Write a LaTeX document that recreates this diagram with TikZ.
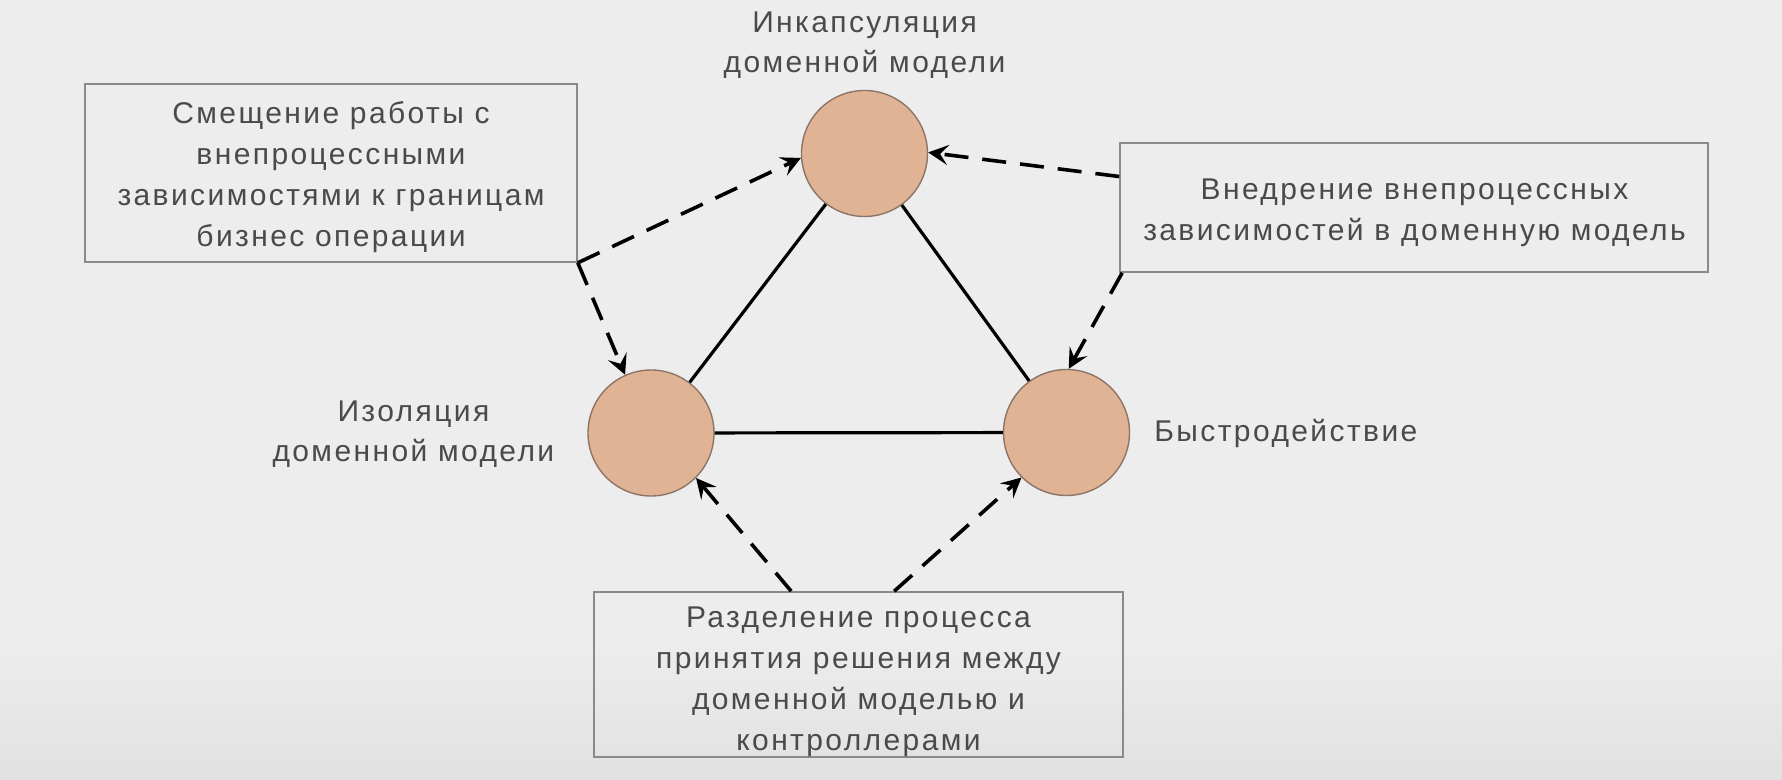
\documentclass[tikz,border=0pt]{standalone}
\usepackage{fontspec}
\setmainfont{Liberation Sans}[LetterSpace=8]
\usetikzlibrary{arrows.meta,calc}
\definecolor{bg}{HTML}{EDEDED}
\definecolor{bgb}{HTML}{E1E1E1}
\definecolor{txt}{HTML}{4A4A4A}
\definecolor{peach}{HTML}{DFB393}
\definecolor{peachline}{HTML}{8C7566}
\definecolor{boxline}{HTML}{8A8A8A}
\begin{document}
\begin{tikzpicture}[x=0.5pt,y=-0.5pt,
  circ/.style={circle,draw=peachline,line width=0.7pt,fill=peach,minimum size=63pt,inner sep=0pt},
  boxx/.style={draw=boxline,line width=0.8pt,inner sep=0pt},
  lbl/.style={text=txt,align=center,inner sep=0pt,font=\fontsize{15}{20}\selectfont},
  boxtext/.style={lbl,font=\fontsize{15}{20.5}\selectfont},
  conn/.style={line width=1.6pt,black},
  dep/.style={line width=1.8pt,black,dash pattern=on 12pt off 7pt,-{Stealth[length=10pt,width=10pt,inset=4pt]}},
]
\fill[bg] (0,0) rectangle (1782,780);
\shade[top color=bg,bottom color=bgb] (0,640) rectangle (1782,780);
\useasboundingbox (0,0) rectangle (1782,780);

\node[circ] (cT) at (864.5,153.5) {};
\node[circ] (cL) at (651,433) {};
\node[circ] (cR) at (1066.5,432.5) {};

\node[boxx, minimum width=246pt, minimum height=89pt] (bL) at (331,173) {};
\node[boxx, minimum width=294pt, minimum height=64.5pt] (bR) at (1414,207.5) {};
\node[boxx, minimum width=264.5pt, minimum height=82.5pt] (bB) at (858.5,674.5) {};

\node[lbl] (tT) at (864.5,45) {Инкапсуляция\\доменной модели};
\node[lbl] (tL) at (413.4,434) {Изоляция\\доменной модели};
\node[lbl,anchor=base west] (tR) at (1154,441.7) {Быстродействие};
\node[boxtext] (tbL) at (331,177) {Смещение работы с\\внепроцессными\\зависимостями к границам\\бизнес операции};
\node[boxtext] (tbR) at (1414.5,212.5) {Внедрение внепроцессных\\зависимостей в доменную модель};
\node[boxtext] (tbB) at (858.5,682) {Разделение процесса\\принятия решения между\\доменной моделью и\\контроллерами};

\draw[conn] (cT) -- (cL);
\draw[conn] (cT) -- (cR);
\draw[conn] (cL) -- (cR);

\draw[dep] (bL.south east) -- (cT.184);
\draw[dep] (bL.south east) -- (cL.114);
\draw[dep] (bR.174) -- (cT.1);
\draw[dep] ($(bR.south west)+(3,0)$) -- (cR.88);
\draw[dep] ($(bB.north west)+(198,0)$) -- (cL.-45);
\draw[dep] ($(bB.north west)+(301,0)$) -- (cR.225);
\end{tikzpicture}
\end{document}
